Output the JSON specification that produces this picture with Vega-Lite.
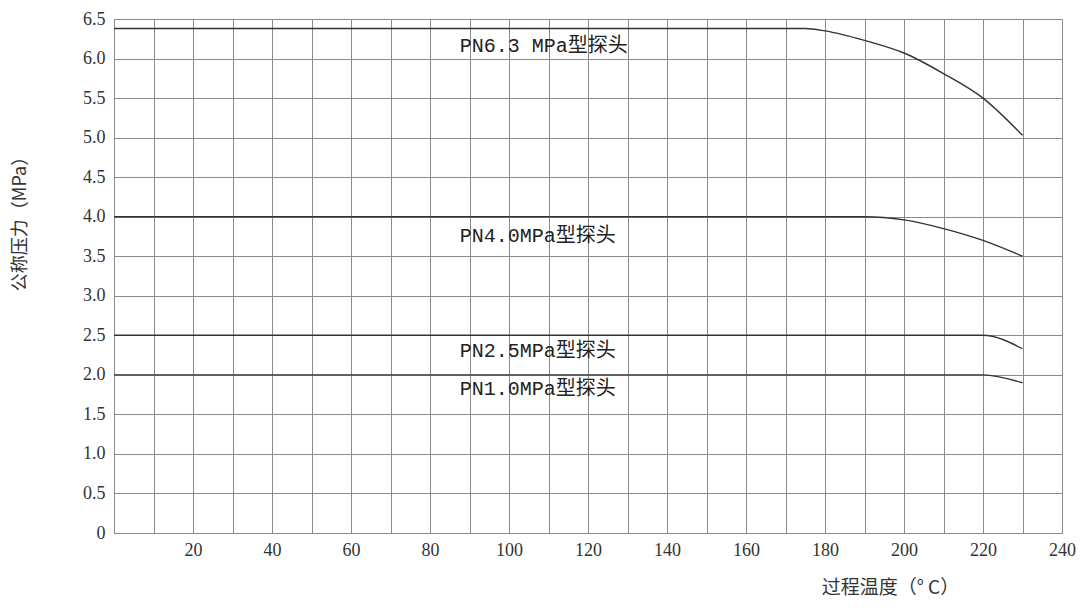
{
  "$schema": "https://vega.github.io/schema/vega-lite/v6.json",
  "autosize": "none",
  "width": 948,
  "height": 514,
  "padding": {"left": 114, "top": 19, "right": 26, "bottom": 75},
  "background": "white",
  "config": {"view": {"stroke": null}},
  "datasets": {
    "curves": [
      {"series": "PN6.3", "t": 0, "p": 6.38},
      {"series": "PN6.3", "t": 175, "p": 6.38},
      {"series": "PN6.3", "t": 180, "p": 6.35},
      {"series": "PN6.3", "t": 190, "p": 6.23},
      {"series": "PN6.3", "t": 200, "p": 6.07},
      {"series": "PN6.3", "t": 210, "p": 5.81},
      {"series": "PN6.3", "t": 220, "p": 5.5},
      {"series": "PN6.3", "t": 230, "p": 5.03},
      {"series": "PN4.0", "t": 0, "p": 4.0},
      {"series": "PN4.0", "t": 190, "p": 4.0},
      {"series": "PN4.0", "t": 200, "p": 3.96},
      {"series": "PN4.0", "t": 210, "p": 3.85},
      {"series": "PN4.0", "t": 220, "p": 3.7},
      {"series": "PN4.0", "t": 230, "p": 3.5},
      {"series": "PN2.5", "t": 0, "p": 2.5},
      {"series": "PN2.5", "t": 220, "p": 2.5},
      {"series": "PN2.5", "t": 230, "p": 2.33},
      {"series": "PN1.0", "t": 0, "p": 2.0},
      {"series": "PN1.0", "t": 220, "p": 2.0},
      {"series": "PN1.0", "t": 230, "p": 1.9}
    ],
    "labels": [
      {"t": 87.5, "p": 6.16, "text": "PN6.3 MPa型探头"},
      {"t": 87.5, "p": 3.75, "text": "PN4.0MPa型探头"},
      {"t": 87.5, "p": 2.3, "text": "PN2.5MPa型探头"},
      {"t": 87.5, "p": 1.82, "text": "PN1.0MPa型探头"}
    ]
  },
  "layer": [
    {
      "data": {"name": "curves"},
      "mark": {"type": "line", "color": "#333333", "strokeWidth": 1.4, "interpolate": "monotone"},
      "encoding": {
        "x": {
          "field": "t", "type": "quantitative",
          "scale": {"domain": [0, 240], "nice": false},
          "axis": {
            "values": [0,10,20,30,40,50,60,70,80,90,100,110,120,130,140,150,160,170,180,190,200,210,220,230,240],
            "tickCount": 30,
            "labelOverlap": false,
            "labelExpr": "datum.value % 20 == 0 && datum.value > 0 ? datum.value : ''",
            "grid": true, "gridColor": "#8a8a8a", "gridWidth": 1, "gridOpacity": 1,
            "ticks": false, "domainColor": "#8a8a8a", "domainWidth": 1,
            "labelFont": "Liberation Serif", "labelFontSize": 18, "labelColor": "#333333",
            "labelPadding": 8, "labelFlush": false,
            "title": "过程温度（° C）",
            "titleFont": "Noto Sans CJK SC", "titleFontSize": 19, "titleFontWeight": "normal",
            "titleColor": "#333333", "titleX": 776, "titleY": 45, "titleAnchor": null, "titleAlign": "center"
          }
        },
        "y": {
          "field": "p", "type": "quantitative",
          "scale": {"domain": [0, 6.5], "nice": false, "zero": true},
          "axis": {
            "values": [0,0.5,1,1.5,2,2.5,3,3.5,4,4.5,5,5.5,6,6.5],
            "tickCount": 20,
            "labelOverlap": false,
            "labelExpr": "datum.value == 0 ? '0' : format(datum.value, '.1f')",
            "grid": true, "gridColor": "#8a8a8a", "gridWidth": 1, "gridOpacity": 1,
            "ticks": false, "domainColor": "#8a8a8a", "domainWidth": 1,
            "labelFont": "Liberation Serif", "labelFontSize": 18, "labelColor": "#333333",
            "labelPadding": 9,
            "title": "公称压力（MPa）",
            "titleFont": "Noto Sans CJK SC", "titleFontSize": 18, "titleFontWeight": "normal",
            "titleColor": "#333333", "titleX": -94, "titleY": 200, "titleAngle": -90, "titleBaseline": "middle", "titleAlign": "center"
          }
        },
        "detail": {"field": "series"}
      }
    },
    {
      "data": {"name": "labels"},
      "mark": {"type": "text", "align": "left", "baseline": "middle", "font": "Liberation Mono, Noto Sans CJK SC", "fontSize": 20, "color": "#222222"},
      "encoding": {
        "x": {"field": "t", "type": "quantitative"},
        "y": {"field": "p", "type": "quantitative"},
        "text": {"field": "text"}
      }
    }
  ]
}
